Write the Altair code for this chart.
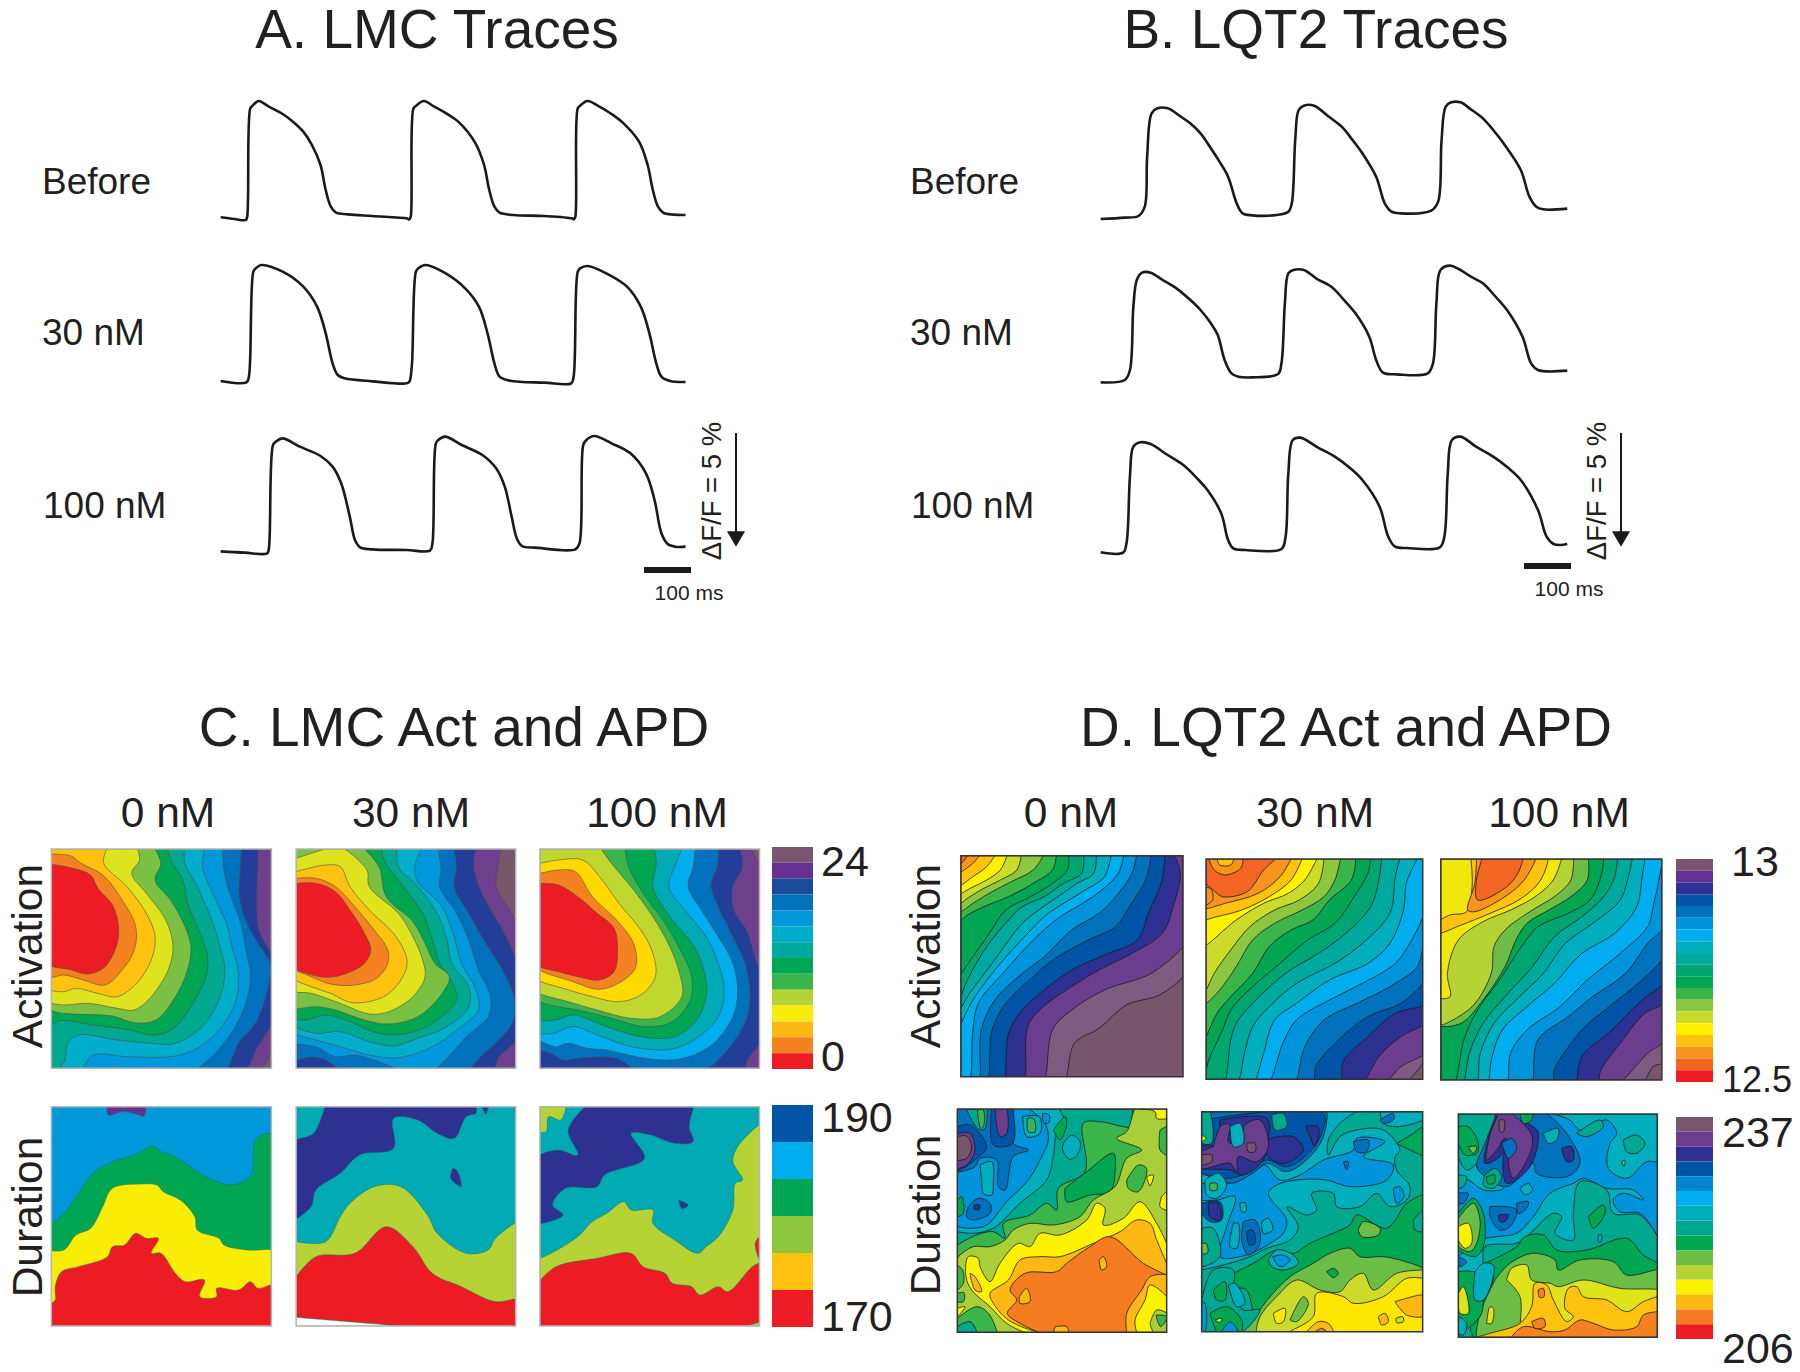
import altair as alt
import pandas as pd

FONT = "Liberation Sans"

# ---------- trace readings (per trace: (x, y)) ----------
A_BEFORE = [(60,382),(100,387),(133,390),(137,380),(146,55),(152,48),(170,33),(200,50),(240,72),(270,95),(300,125),(325,165),(350,225),(365,300),(380,350),(395,368),(430,373),(500,378),(600,385),(608,388),(612,380),(620,55),(628,47),(650,33),(680,50),(715,70),(750,95),(800,160),(825,225),(840,300),(855,350),(870,368),(910,375),(1000,378),(1080,385),(1086,388),(1090,380),(1097,55),(1104,47),(1125,33),(1160,50),(1195,72),(1230,100),(1275,155),(1300,225),(1315,300),(1330,350),(1345,368),(1375,374),(1410,375)]
A_30 = [(60,873),(135,877),(142,860),(155,545),(162,535),(178,525),(240,545),(300,590),(340,650),(365,730),(385,820),(400,855),(420,865),(500,874),(600,880),(608,875),(615,830),(627,545),(634,535),(655,525),(710,548),(770,595),(810,650),(835,730),(855,820),(870,860),(900,872),(1000,878),(1078,880),(1085,860),(1097,545),(1104,535),(1125,528),(1180,550),(1240,590),(1280,650),(1305,730),(1325,820),(1340,860),(1365,873),(1410,876)]
A_100 = [(60,1384),(130,1388),(195,1390),(200,1375),(212,1065),(220,1055),(240,1045),(290,1070),(350,1098),(385,1130),(410,1180),(435,1280),(450,1350),(465,1372),(500,1378),(600,1380),(668,1382),(675,1360),(685,1060),(692,1050),(712,1040),(760,1065),(820,1095),(860,1135),(885,1190),(905,1280),(920,1345),(935,1368),(975,1373),(1090,1378),(1102,1360),(1113,1065),(1122,1050),(1145,1038),(1195,1060),(1250,1090),(1295,1150),(1320,1230),(1340,1330),(1358,1362),(1380,1370),(1410,1370)]
B_BEFORE = [(60,387),(130,383),(170,378),(188,350),(195,200),(208,70),(225,55),(255,55),(290,78),(320,100),(350,130),(380,175),(405,215),(430,260),(455,340),(472,370),(500,376),(570,375),(605,365),(615,340),(625,150),(635,60),(650,47),(680,47),(720,78),(760,110),(790,148),(820,190),(860,260),(885,340),(905,365),(930,370),(1020,362),(1040,335),(1050,150),(1062,50),(1078,37),(1105,37),(1135,58),(1170,85),(1200,120),(1230,160),(1280,240),(1305,320),(1325,350),(1345,358),(1415,356)]
B_30 = [(60,877),(130,870),(145,840),(155,650),(165,570),(180,548),(205,548),(240,570),(280,595),(315,625),(350,660),(380,700),(400,735),(420,810),(440,850),(460,860),(500,862),(575,852),(585,820),(595,640),(605,550),(620,540),(650,540),(690,568),(730,590),(765,628),(800,670),(840,740),(860,810),(880,848),(920,853),(1010,850),(1025,820),(1035,640),(1047,540),(1075,527),(1100,537),(1135,560),(1170,580),(1205,618),(1240,660),(1285,740),(1310,820),(1330,840),(1415,842)]
B_100 = [(60,1387),(125,1388),(135,1360),(145,1160),(155,1070),(175,1057),(205,1062),(250,1092),(300,1125),(340,1165),(370,1200),(410,1270),(430,1350),(445,1375),(480,1380),(585,1377),(597,1340),(605,1150),(618,1050),(640,1043),(690,1072),(740,1100),(785,1135),(820,1170),(870,1250),(895,1340),(915,1370),(950,1374),(1045,1372),(1058,1340),(1068,1150),(1080,1050),(1105,1040),(1150,1070),(1200,1100),(1245,1135),(1280,1170),(1330,1260),(1355,1340),(1375,1362),(1395,1365),(1415,1362)]

# ---------- palettes ----------
C_BASE = '#77566b'
C_ACT_COL1 = ['#6d3f8c','#233e99','#0071bc','#0098db','#00aecb','#00a88f','#00a651','#7ac143','#dfe31d','#ffc20e','#f58220','#ed1c24']
C_ACT_COL3 = ['#6d3f8c','#233e99','#0071bc','#00aeef','#00aab5','#00a651','#39b54a','#c0d72f','#ffd900','#f58220','#ed1c24']
D_ACT_COL = ['#7d5a80','#6a3d8f','#2e3192','#0054a6','#0072bc','#0095da','#00aeef','#00aebd','#00a99d','#00a672','#00a651','#39b54a','#8dc63f','#cbdb2a','#fff200','#ffc20e','#f7941d','#f26522']
D_ACT_COL3 = ['#7d5a80','#6a3d8f','#2e3192','#0054a6','#0072bc','#0095da','#00aeef','#00aebd','#00a99d','#00a672','#00a651','#6cbd45','#b5d334','#f0e80c']

LEG_C_ACT = ['#7a5570','#65308f','#1a4a9c','#0072bc','#0098db','#00aecb','#00a99d','#00a651','#39b54a','#b5d334','#f7ec0b','#fdb913','#f58220','#ed1c24']
LEG_C_DUR = ['#0054a6','#00aeef','#00a651','#8dc63f','#ffc20e','#ed1c24']
LEG_D_ACT = ['#7a5570','#65308f','#2e3192','#0054a6','#0072bc','#0095da','#00aeef','#00aebd','#00a99d','#00a672','#00a651','#39b54a','#8dc63f','#cbdb2a','#fff200','#ffc20e','#f7941d','#f26522','#ed1c24']
LEG_D_DUR = ['#7a5570','#6a3d8f','#2e3192','#0054a6','#0085cf','#00aeef','#00aebd','#00a88f','#00a651','#6cbd45','#b5d334','#fff200','#fdb813','#f47b20','#ed1c24']

# ---------- contour boundaries, panel C activation ----------
CA1 = [
 [(498,57),(498,665),(478,715)],
 [(470,57),(470,100),(468,200),(472,300),(498,370),(498,585),(470,650),(448,715)],
 [(436,57),(434,110),(432,200),(445,270),(470,340),(495,400),(490,480),(465,580),(430,640),(408,715)],
 [(398,57),(400,120),(412,190),(435,280),(445,360),(455,440),(440,540),(410,620),(375,680),(345,715)],
 [(360,57),(356,110),(380,200),(405,280),(418,360),(430,430),(425,510),(395,590),(350,650),(300,678),(200,680),(130,675),(108,715)],
 [(318,57),(320,100),(345,170),(375,270),(392,350),(402,420),(390,510),(355,590),(300,640),(250,640),(180,630),(100,615),(78,640),(72,690),(60,715)],
 [(284,57),(290,90),(315,150),(325,220),(345,290),(365,370),(365,430),(340,510),(300,590),(260,615),(200,598),(130,585),(60,572),(44,585)],
 [(258,57),(270,100),(258,150),(290,210),(320,290),(332,350),(325,420),(300,500),(260,570),(215,578),(170,558),(100,553),(60,548),(44,540)],
 [(222,57),(226,90),(210,130),(240,190),(280,270),(295,350),(285,420),(250,500),(215,540),(180,535),(120,520),(70,525),(44,518)],
 [(158,57),(152,100),(200,170),(240,250),(258,320),(250,390),(220,460),(180,500),(140,490),(95,475),(70,485),(44,480)],
 [(44,72),(85,78),(105,100),(150,135),(190,210),(218,290),(215,360),(190,420),(155,465),(110,450),(70,435),(44,442)],
 [(44,103),(80,112),(125,135),(140,175),(170,225),(182,280),(180,340),(155,410),(120,432),(80,418),(44,408)],
]
CA2 = [
 [(972,57),(965,110),(962,170),(985,230),(1002,270),(1002,715)],
 [(920,57),(915,105),(925,165),(945,225),(975,300),(1002,385),(1002,635),(968,680),(958,715)],
 [(875,57),(880,110),(875,170),(905,250),(940,340),(975,420),(1000,510),(995,580),(960,640),(930,680),(908,715),(636,715),(610,690),(580,680),(549,690)],
 [(842,57),(848,120),(845,170),(880,250),(905,330),(925,420),(950,500),(945,560),(900,620),(870,670),(838,715),(756,715),(710,690),(670,675),(630,680),(590,650),(549,640)],
 [(808,57),(795,100),(798,150),(850,230),(875,320),(890,400),(920,480),(925,540),(880,600),(830,650),(760,683),(700,675),(640,650),(590,630),(549,612)],
 [(757,57),(760,110),(800,170),(840,250),(860,330),(870,400),(905,470),(905,530),(860,590),(800,625),(750,648),(700,635),(640,605),(590,610),(549,590)],
 [(725,57),(730,90),(770,170),(810,250),(830,330),(845,400),(875,470),(880,510),(830,580),(780,610),(720,610),(660,575),(610,555),(570,570),(549,565)],
 [(690,57),(720,110),(735,200),(790,275),(815,340),(835,400),(865,440),(845,500),(800,560),(740,582),(690,570),(630,540),(590,530),(549,535)],
 [(549,85),(610,57),(648,57),(695,120),(700,170),(760,250),(790,320),(810,390),(815,440),(790,500),(740,545),(700,552),(640,520),(580,490),(549,485)],
 [(549,125),(610,105),(640,110),(660,170),(700,240),(755,320),(778,395),(765,450),(730,500),(665,518),(620,490),(580,470),(549,450)],
 [(549,145),(590,145),(630,170),(670,230),(710,300),(738,360),(738,400),(715,445),(670,465),(620,462),(580,440),(549,420)],
 [(549,160),(590,160),(630,185),(660,240),(690,310),(703,360),(690,400),(650,432),(610,442),(570,430),(549,418)],
]
CA3 = [
 [(1490,57),(1495,80),(1505,95),(1505,715)],
 [(1464,57),(1470,110),(1450,170),(1452,240),(1478,300),(1500,400),(1505,410),(1505,640),(1480,690),(1475,715)],
 [(1420,57),(1418,110),(1405,165),(1420,230),(1450,320),(1475,400),(1485,490),(1480,560),(1450,640),(1420,690),(1398,715),(1245,715),(1210,685),(1170,680),(1130,685),(1100,690),(1075,670),(1052,660)],
 [(1372,57),(1368,110),(1358,170),(1385,240),(1420,320),(1450,400),(1460,490),(1450,560),(1410,640),(1360,680),(1310,690),(1250,680),(1190,660),(1150,655),(1110,640),(1085,650),(1052,630)],
 [(1345,57),(1330,110),(1318,170),(1345,230),(1395,320),(1420,400),(1432,480),(1420,560),(1370,630),(1320,658),(1240,650),(1180,620),(1120,590),(1080,610),(1052,610)],
 [(1288,57),(1292,100),(1285,170),(1320,260),(1370,350),(1392,430),(1395,500),(1375,570),(1330,620),(1260,620),(1190,590),(1120,555),(1085,570),(1052,570)],
 [(1228,57),(1235,110),(1265,190),(1310,280),(1345,370),(1365,440),(1362,510),(1325,575),(1270,590),(1200,565),(1130,540),(1090,530),(1052,515)],
 [(1178,57),(1205,110),(1240,170),(1285,260),(1320,350),(1340,430),(1345,500),(1300,560),(1240,565),(1170,540),(1110,515),(1052,490)],
 [(1052,100),(1090,90),(1140,90),(1175,140),(1215,220),(1260,300),(1285,370),(1290,440),(1260,495),(1215,515),(1160,500),(1100,475),(1052,452)],
 [(1052,130),(1090,120),(1125,125),(1160,200),(1210,270),(1245,340),(1250,410),(1225,450),(1175,478),(1120,455),(1052,420)],
 [(1052,160),(1090,165),(1130,200),(1170,250),(1205,295),(1212,370),(1205,425),(1175,450),(1130,440),(1090,425),(1052,410)],
]

# ---------- panel C duration ----------
CD1 = [
 ('#00a651',[(44,400),(70,370),(100,310),(130,250),(170,215),(215,195),(255,168),(270,185),(300,200),(335,235),(365,262),(415,285),(445,270),(458,250),(465,150),(490,130),(498,135),(498,708),(44,708)]),
 ('#f9ed06',[(44,482),(70,480),(95,435),(125,415),(150,350),(170,295),(230,282),(262,285),(275,305),(310,330),(340,380),(345,420),(390,445),(400,465),(450,480),(498,480),(498,708),(44,708)]),
 ('#ed1c24',[(44,640),(52,630),(52,590),(65,545),(100,530),(160,500),(170,470),(195,465),(218,430),(240,445),(265,445),(250,490),(270,490),(300,550),(320,575),(360,570),(350,620),(385,620),(385,595),(430,600),(455,575),(470,595),(498,585),(498,708),(44,708)]),
 ('#65308f',[(158,50),(162,75),(190,65),(215,70),(235,78),(238,50)]),
]
CD2 = [
 ('#2e3192',[(608,50),(585,130),(549,150),(549,385),(580,350),(590,300),(640,250),(680,195),(750,175),(750,85),(800,90),(840,130),(875,145),(900,80),(920,70),(920,50)]),
 ('#2e3192',[(932,50),(945,50),(940,72)]),
 ('#2e3192',[(872,235),(880,240),(890,290),(868,265)]),
 ('#b5d334',[(549,455),(610,455),(640,380),(660,340),(710,290),(765,290),(820,375),(840,430),(900,490),(945,480),(960,445),(1002,400),(1002,708),(549,708)]),
 ('#ed1c24',[(549,560),(590,500),(670,490),(735,410),(790,470),(830,550),(890,590),(960,635),(1002,628),(1002,708),(765,708),(762,707.6),(552,682.4),(549,682)]),
 ('#ffffff',[(549,682),(552,682.4),(762,707.6),(765,708),(549,708)]),
]
CD3 = [
 ('#b5d334',[(1052,50),(1105,50),(1095,90),(1070,80),(1065,125),(1052,125)]),
 ('#2e3192',[(1145,50),(1110,120),(1130,195),(1090,180),(1052,195),(1052,400),(1100,375),(1078,345),(1105,295),(1170,290),(1185,255),(1268,205),(1240,130),(1280,135),(1330,160),(1368,155),(1360,110),(1368,50)]),
 ('#2e3192',[(1338,330),(1358,345),(1345,356)]),
 ('#b5d334',[(1052,505),(1075,490),(1130,440),(1160,395),(1190,370),(1225,335),(1240,360),(1285,360),(1285,400),(1330,450),(1378,490),(1395,470),(1420,440),(1450,360),(1455,280),(1470,270),(1450,215),(1460,170),(1505,105),(1505,708),(1052,708)]),
 ('#ed1c24',[(1052,572),(1085,530),(1170,505),(1240,490),(1265,530),(1310,550),(1325,580),(1365,590),(1382,615),(1420,590),(1440,605),(1490,530),(1505,520),(1505,695),(1470,708),(1052,708)]),
 ('#ed1c24',[(1505,440),(1496,460),(1505,510)]),
]

# ---------- panel D activation ----------
DA1 = [
 [(443,47),(443,410),(400,465),(340,495),(290,565),(245,610),(230,710)],
 [(443,47),(443,320),(385,400),(300,450),(240,510),(205,570),(192,710)],
 [(428,47),(438,100),(425,200),(405,280),(350,340),(290,390),(240,440),(185,505),(160,560),(155,710)],
 [(410,47),(405,120),(380,220),(360,300),(300,345),(240,390),(190,450),(150,510),(125,580),(118,710)],
 [(385,47),(375,120),(345,200),(320,260),(270,300),(210,355),(170,410),(120,490),(95,570),(88,710)],
 [(358,47),(350,100),(320,170),(290,220),(240,270),(190,350),(150,400),(100,480),(75,570),(72,710)],
 [(335,47),(325,100),(295,150),(260,190),(215,235),(170,300),(120,390),(70,490),(60,570),(55,710)],
 [(312,47),(300,110),(265,150),(230,185),(190,230),(160,280),(105,380),(60,480),(38,550)],
 [(285,47),(280,100),(250,130),(215,170),(180,210),(150,250),(95,370),(50,470),(38,505)],
 [(262,47),(258,100),(225,130),(190,170),(150,200),(125,240),(85,320),(50,420),(38,470)],
 [(235,47),(232,90),(205,130),(165,170),(120,210),(90,280),(60,350),(38,400)],
 [(212,47),(205,90),(170,130),(125,170),(80,200),(50,225),(38,240)],
 [(188,47),(170,90),(130,125),(95,155),(60,190),(38,215)],
 [(148,47),(140,90),(110,120),(80,145),(50,175),(38,190)],
 [(122,47),(110,90),(85,120),(55,145),(38,160)],
 [(100,47),(85,80),(60,110),(38,135)],
 [(72,47),(60,70),(38,95)],
 [(50,47),(45,60),(38,70)],
]
DA2 = [
 [(880,57),(880,670),(855,718)],
 [(880,57),(880,645),(840,680),(818,718)],
 [(880,57),(880,555),(840,590),(800,650),(775,718)],
 [(880,57),(880,497),(830,520),(780,590),(735,665),(732,718)],
 [(880,57),(880,430),(840,490),(780,530),(720,610),(685,680),(682,718)],
 [(880,57),(880,320),(870,380),(820,440),(760,490),(700,540),(665,620),(650,718)],
 [(880,57),(880,230),(860,300),(830,370),(770,430),(710,480),(650,540),(625,610),(603,718)],
 [(870,57),(850,130),(845,210),(820,310),(780,370),(710,420),(650,490),(610,540),(590,640),(575,718)],
 [(838,57),(830,110),(820,220),(770,310),(720,370),(650,430),(600,500),(570,560),(555,640),(545,718)],
 [(805,57),(800,120),(785,200),(740,280),(690,340),(630,400),(570,490),(540,550),(530,600),(520,718)],
 [(785,57),(780,100),(755,170),(720,250),(670,300),(620,370),(570,440),(530,510),(515,570),(490,660),(485,690)],
 [(758,57),(750,120),(710,180),(680,240),(640,270),(600,320),(570,400),(530,470),(505,520),(485,590)],
 [(730,57),(720,120),(700,170),(660,210),(610,250),(570,300),(540,380),(510,450),(485,490)],
 [(700,57),(690,130),(655,180),(610,210),(565,260),(530,330),(500,400),(485,450)],
 [(687,57),(665,120),(635,160),(590,190),(540,240),(485,315)],
 [(660,57),(640,120),(600,170),(550,210),(500,232),(485,238)],
 [(640,57),(620,110),(580,160),(520,190),(485,205)],
 [(612,57),(590,90),(560,155),(515,170),(498,150),(485,130)],
]
DA2_EXTRA = [
 ('#f7941d',[(490,57),(552,57),(548,85),(520,105),(500,90)]),
 ('#ffc20e',[(505,57),(535,57),(530,75),(510,75)]),
 ('#f7941d',[(485,140),(495,150),(497,180),(485,195)]),
]
DA3 = [
 [(1316,57),(1316,670),(1300,680),(1285,720)],
 [(1316,57),(1316,610),(1290,640),(1245,720)],
 [(1316,57),(1316,495),(1285,520),(1240,610),(1205,690),(1200,720)],
 [(1316,57),(1316,435),(1280,480),(1225,570),(1170,650),(1160,720)],
 [(1316,57),(1316,360),(1280,420),(1220,500),(1170,570),(1120,690),(1118,720)],
 [(1316,57),(1316,270),(1290,310),(1250,400),(1190,470),(1145,530),(1090,600),(1080,720)],
 [(1316,57),(1316,70),(1300,200),(1290,260),(1240,340),(1180,420),(1130,500),(1070,570),(1040,640),(1035,720)],
 [(1285,57),(1280,110),(1270,200),(1230,280),(1170,340),(1120,430),(1070,500),(1025,570),(1005,660),(1000,720)],
 [(1262,57),(1255,110),(1240,180),(1190,250),(1140,310),(1100,400),(1050,480),(1010,550),(985,640),(980,720)],
 [(1235,57),(1230,110),(1210,170),(1170,230),(1120,290),(1080,380),(1030,470),(990,550),(965,640),(955,720)],
 [(1210,57),(1205,110),(1185,180),(1145,220),(1090,260),(1060,320),(1020,420),(980,510),(955,600),(940,720)],
 [(1182,57),(1180,120),(1150,170),(1110,210),(1070,250),(1050,300),(1030,380),(990,480),(950,550),(913,558)],
 [(1155,57),(1150,120),(1120,170),(1080,210),(1030,270),(1010,320),(1005,400),(970,500),(913,555)],
 [(1133,57),(1118,120),(1085,170),(1040,210),(990,245),(945,300),(925,400),(930,470),(913,475)],
]
DA3_EXTRA = [
 ('#ffc20e',[(968,57),(1108,57),(1095,120),(1060,175),(1000,222),(950,255),(913,278),(913,240),(930,225),(960,215),(970,140)]),
 ('#f7941d',[(978,57),(1085,57),(1065,120),(1030,170),(975,215),(962,210),(975,130)]),
 ('#f26522',[(988,57),(1062,57),(1050,110),(1025,150),(980,180),(978,120)]),
]

# ---------- panel D duration (crop pixels, 3x) ----------
DD1 = [
 ('#00aebd',[(22,380),(60,385),(110,375),(170,305),(235,240),(275,170),(295,120),(285,70),(240,27),(650,27),(650,697),(22,697)]),
 ('#00a88f',[(22,395),(70,400),(130,385),(210,310),(290,240),(310,170),(320,100),(345,70),(330,27),(650,27),(650,697),(22,697)]),
 ('#00aebd',[(340,130),(365,105),(390,125),(385,160),(360,178),(338,150)]),
 ('#00a651',[(310,90),(345,50),(350,70),(330,120)]),
 ('#00aebd',[(218,50),(268,50),(270,100),(230,110)]),
 ('#39b54a',[(232,55),(250,55),(255,95),(235,95)]),
 ('#39b54a',[(22,435),(80,405),(130,395),(165,415),(160,370),(240,345),(290,310),(320,330),(325,265),(405,215),(400,70),(450,65),(520,80),(540,80),(550,27),(650,27),(650,697),(22,697)]),
 ('#00a651',[(345,265),(410,215),(490,160),(495,215),(480,275),(420,285),(350,305)]),
 ('#a8cf38',[(22,475),(30,465),(70,440),(120,440),(165,420),(190,390),(240,370),(310,375),(390,350),(430,300),(495,260),(530,175),(575,150),(500,115),(530,95),(555,27),(650,27),(650,697),(22,697)]),
 ('#39b54a',[(530,240),(565,195),(590,205),(565,275),(535,265)]),
 ('#39b54a',[(630,90),(650,80),(650,165),(630,150)]),
 ('#fff200',[(650,430),(620,370),(570,305),(520,355),(460,375),(465,325),(440,310),(410,360),(330,405),(270,400),(240,440),(205,430),(150,490),(120,545),(90,500),(85,475),(55,470),(48,530),(65,570),(120,620),(170,670),(225,697),(650,697)]),
 ('#fdb813',[(650,490),(620,420),(600,370),(560,360),(510,395),(430,430),(330,470),(270,470),(210,480),(175,540),(120,580),(130,610),(175,660),(265,697),(650,697)]),
 ('#f47b20',[(650,525),(580,490),(480,410),(420,440),(350,490),(320,515),(225,520),(180,570),(200,600),(172,640),(210,670),(270,697),(650,697)]),
 ('#fdb813',[(208,590),(230,565),(240,605),(210,610)]),
 ('#fdb813',[(315,680),(350,680),(355,697),(312,697)]),
 ('#fdb813',[(447,480),(460,470),(470,500),(455,510)]),
 ('#fdb813',[(530,697),(530,640),(575,570),(600,530),(650,525),(650,697)]),
 ('#fff200',[(560,697),(555,660),(585,600),(600,555),(650,590),(650,697)]),
 ('#a8cf38',[(600,670),(620,630),(650,640),(650,697),(610,697)]),
 ('#39b54a',[(618,645),(650,650),(632,680)]),
 ('#39b54a',[(22,655),(80,620),(115,640),(140,697),(22,697)]),
 ('#00a88f',[(22,680),(60,665),(80,697),(22,697)]),
 ('#fff200',[(22,625),(45,620),(22,650)]),
 ('#39b54a',[(22,495),(38,510),(40,550),(22,570)]),
 ('#39b54a',[(22,580),(42,578),(40,605),(22,605)]),
 ('#fdb813',[(60,520),(75,530),(95,575),(75,570)]),
 ('#0072bc',[(22,27),(190,27),(190,130),(235,150),(190,170),(165,270),(145,260),(140,180),(90,175),(75,200),(22,215)]),
 ('#00aebd',[(90,195),(125,185),(130,250),(125,285),(100,280),(95,240)]),
 ('#0054a6',[(125,27),(185,27),(188,130),(130,135)]),
 ('#0054a6',[(22,80),(60,75),(110,140),(80,175),(30,210),(22,210)]),
 ('#6a3d8f',[(135,27),(170,27),(170,100),(150,110)]),
 ('#6a3d8f',[(22,100),(60,100),(75,150),(50,195),(22,205)]),
 ('#77566b',[(22,110),(50,108),(65,140),(50,175),(22,180)]),
 ('#00a88f',[(50,27),(110,27),(105,85),(90,90),(65,60)]),
 ('#39b54a',[(82,30),(100,30),(100,80),(92,85)]),
 ('#0072bc',[(55,320),(85,295),(120,310),(120,340),(70,360),(50,350)]),
 ('#2e3192',[(72,316),(88,314),(88,328),(74,328)]),
 ('#00a651',[(22,300),(35,290),(40,340),(22,350)]),
 ('#0095da',[(278,40),(298,45),(295,70),(280,65)]),
 ('#fff200',[(570,27),(650,27),(650,55),(620,55),(615,35)]),
 ('#fff200',[(590,230),(610,225),(600,258)]),
 ('#fff200',[(635,290),(650,275),(650,330),(630,320)]),
]
DD2 = [
 ('#0095da',[(65,250),(140,250),(230,210),(255,195),(300,240),(360,225),(430,180),(520,150),(530,115),(615,125),(550,170),(640,195),(620,240),(510,260),(440,240),(350,240),(290,255),(265,280),(320,360),(310,400),(270,430),(200,465),(120,470),(140,380),(165,290),(110,300),(65,300)]),
 ('#00a88f',[(65,510),(130,495),(210,470),(260,445),(330,420),(355,380),(320,320),(380,345),(410,330),(395,280),(460,280),(470,320),(540,320),(590,280),(630,320),(680,300),(690,260),(650,210),(645,170),(660,150),(610,90),(530,90),(480,110),(445,165),(445,120),(480,70),(530,35),(728,35),(728,695),(65,695)]),
 ('#00aebd',[(600,35),(728,35),(728,60),(650,80),(610,70)]),
 ('#0072bc',[(600,60),(640,40),(640,60),(610,70)]),
 ('#00a651',[(650,130),(700,100),(728,80),(728,165),(690,150)]),
 ('#0095da',[(640,265),(660,260),(672,290),(650,310)]),
 ('#0072bc',[(520,125),(565,120),(560,155),(530,155)]),
 ('#0072bc',[(490,185),(505,185),(500,210)]),
 ('#00a651',[(160,520),(220,490),(290,450),(340,460),(390,430),(470,395),(510,375),(530,345),(620,385),(680,310),(728,285),(728,695),(230,695),(200,570),(165,560)]),
 ('#00a88f',[(700,360),(728,330),(728,395),(705,390)]),
 ('#6cbd45',[(535,390),(550,365),(600,385),(595,405),(545,410)]),
 ('#00aebd',[(265,480),(290,450),(340,465),(355,490),(310,510),(275,500)]),
 ('#0095da',[(278,470),(310,465),(330,480),(300,500)]),
 ('#6cbd45',[(240,630),(270,590),(330,530),(400,490),(450,460),(510,445),(540,470),(610,470),(660,480),(728,505),(728,695),(190,695)]),
 ('#00a651',[(440,515),(460,505),(475,520),(460,533)]),
 ('#cbdb2a',[(728,510),(650,520),(580,570),(550,520),(510,540),(480,575),(420,570),(350,540),(290,590),(240,650),(230,695),(728,695)]),
 ('#ffe600',[(728,535),(680,535),(610,590),(520,610),(490,590),(410,580),(400,650),(330,695),(728,695)]),
 ('#6cbd45',[(330,660),(370,590),(385,610),(350,665)]),
 ('#ffe600',[(280,640),(315,625),(310,665),(290,670)]),
 ('#fdb813',[(645,605),(728,585),(728,650),(680,645)]),
 ('#fdb813',[(595,650),(615,640),(625,665),(605,675)]),
 ('#cbdb2a',[(648,655),(668,650),(670,665),(650,668)]),
 ('#fdb813',[(380,695),(415,665),(445,670),(460,695)]),
 ('#f47b20',[(405,695),(425,685),(440,695)]),
 ('#0072bc',[(65,35),(440,35),(430,110),(390,170),(320,215),(260,190),(210,225),(150,250),(65,215)]),
 ('#0054a6',[(65,60),(430,40),(425,100),(385,160),(320,200),(260,180),(205,215),(150,235),(65,220)]),
 ('#2e3192',[(270,115),(340,110),(370,150),(315,190),(270,175),(255,150)]),
 ('#2e3192',[(120,60),(260,55),(265,120),(250,180),(190,225),(150,210),(65,205),(65,140),(110,130)]),
 ('#2e3192',[(378,78),(415,82),(405,140),(390,110)]),
 ('#6a3d8f',[(100,140),(125,75),(150,75),(145,125),(180,130),(195,75),(240,60),(265,140),(230,185),(175,170),(170,215),(150,190),(80,205),(65,205),(65,155)]),
 ('#77566b',[(65,165),(95,165),(95,185),(65,195)]),
 ('#77566b',[(200,130),(225,130),(225,155),(205,155)]),
 ('#00aebd',[(150,80),(180,70),(190,130),(160,140)]),
 ('#00a88f',[(275,45),(310,40),(320,80),(285,90)]),
 ('#00a88f',[(65,35),(90,35),(95,130),(65,130)]),
 ('#fff200',[(65,105),(78,115),(65,125)]),
 ('#00aebd',[(75,240),(115,220),(140,255),(110,295),(80,285)]),
 ('#39b54a',[(90,250),(110,250),(110,270),(90,270)]),
 ('#0054a6',[(65,310),(120,305),(125,360),(90,365),(65,340)]),
 ('#2e3192',[(85,310),(115,310),(120,360),(90,350)]),
 ('#0072bc',[(190,365),(225,360),(240,430),(205,465),(185,420)]),
 ('#0054a6',[(200,395),(218,390),(225,430),(208,435)]),
 ('#00aebd',[(245,365),(265,355),(278,390),(250,400)]),
 ('#00aebd',[(180,310),(195,308),(198,335),(185,335)]),
 ('#00aebd',[(160,370),(175,370),(170,445),(150,440)]),
 ('#00a88f',[(65,385),(100,385),(120,470),(65,500)]),
 ('#6cbd45',[(65,430),(80,432),(82,460),(65,460)]),
 ('#00a88f',[(65,600),(100,510),(160,510),(160,590),(190,630),(240,630),(190,695),(65,695)]),
 ('#00aebd',[(145,555),(165,550),(195,610),(170,620)]),
 ('#00a651',[(100,570),(135,545),(135,600),(110,600)]),
 ('#00a651',[(90,640),(140,620),(185,660),(185,695),(110,695)]),
 ('#cbdb2a',[(105,660),(125,655),(120,668)]),
 ('#0095da',[(125,695),(150,665),(175,695)]),
 ('#0095da',[(65,605),(75,610),(75,695),(65,695)]),
]
DD3 = [
 ('#00aebd',[(340,42),(652,42),(652,185),(620,185),(560,235),(505,205),(510,130),(530,100),(500,60),(420,90),(390,60)]),
 ('#00a88f',[(550,120),(590,105),(615,130),(590,160),(560,155)]),
 ('#6cbd45',[(545,185),(555,180),(552,200)]),
 ('#00a88f',[(410,100),(480,60),(490,80),(440,110)]),
 ('#00aebd',[(55,42),(165,42),(125,170),(110,200),(190,265),(130,270),(85,240),(55,240)]),
 ('#00a88f',[(55,42),(165,42),(125,170),(80,210),(55,170)]),
 ('#00a651',[(55,80),(85,80),(115,130),(110,160),(75,165),(55,130)]),
 ('#6cbd45',[(85,140),(110,140),(100,160)]),
 ('#00aebd',[(55,470),(120,420),(170,410),(230,400),(280,350),(330,280),(400,250),(430,235),(500,265),(580,270),(610,300),(550,280),(520,300),(540,335),(600,340),(652,410),(652,470),(55,560)]),
 ('#00a88f',[(130,490),(135,440),(230,430),(260,410),(340,340),(365,350),(345,400),(400,420),(400,340),(420,245),(500,270),(520,340),(600,345),(652,410),(652,712),(55,712),(100,640),(160,530)]),
 ('#00a651',[(445,350),(490,315),(495,340),(460,385)]),
 ('#00aebd',[(475,405),(485,405),(483,425),(475,425)]),
 ('#00a651',[(135,490),(230,440),(255,410),(310,405),(350,450),(440,450),(560,415),(610,465),(652,490),(652,712),(100,712),(90,640),(130,600),(160,530)]),
 ('#6cbd45',[(165,540),(210,490),(280,460),(345,480),(355,510),(420,480),(520,485),(560,525),(652,510),(652,712),(110,712),(120,640)]),
 ('#dfe31a',[(200,540),(215,505),(260,495),(275,540),(330,550),(355,560),(430,540),(540,565),(652,570),(652,712),(240,712),(240,590)]),
 ('#ffc20e',[(652,590),(610,605),(560,635),(500,600),(430,590),(410,560),(385,565),(375,625),(400,650),(380,665),(340,600),(320,555),(285,550),(275,620),(240,670),(150,700),(110,712),(652,712)]),
 ('#f58220',[(652,635),(610,645),(590,680),(520,690),(460,670),(420,660),(375,690),(330,695),(250,680),(215,712),(652,712)]),
 ('#f58220',[(275,665),(310,655),(315,680),(285,685)]),
 ('#f58220',[(295,570),(310,565),(312,590),(298,592)]),
 ('#dfe31a',[(140,670),(150,620),(160,625),(155,670)]),
 ('#0072bc',[(170,42),(320,42),(380,100),(420,190),(380,230),(290,220),(280,190),(200,260),(130,225),(110,200),(135,130)]),
 ('#00aebd',[(310,100),(355,85),(350,120),(325,130)]),
 ('#2e3192',[(175,42),(280,80),(295,100),(270,200),(200,250),(190,170),(205,135),(180,170),(135,190),(150,100)]),
 ('#6a3d8f',[(175,42),(215,42),(275,105),(270,160),(220,235),(205,180),(215,140),(195,115),(170,150),(140,180),(150,105)]),
 ('#0072bc',[(185,130),(215,115),(230,145),(205,175)]),
 ('#77566b',[(178,60),(192,60),(190,95),(180,95)]),
 ('#2e3192',[(365,145),(395,140),(400,180),(380,185)]),
 ('#0072bc',[(150,320),(200,320),(230,330),(210,380),(180,390),(150,350)]),
 ('#0072bc',[(230,310),(265,305),(260,325),(235,340)]),
 ('#2e3192',[(175,345),(205,345),(195,365),(180,365)]),
 ('#00aebd',[(240,265),(265,250),(278,270),(255,285)]),
 ('#00a88f',[(135,225),(165,205),(185,230),(160,265),(130,255)]),
 ('#00a651',[(140,230),(165,225),(162,250),(142,250)]),
 ('#00a651',[(240,42),(280,42),(270,65),(250,70)]),
 ('#00a88f',[(55,225),(80,230),(70,260),(55,265)]),
 ('#0072bc',[(55,280),(85,280),(70,310),(55,310)]),
 ('#00a651',[(55,340),(100,295),(130,340),(130,440),(105,470),(55,450)]),
 ('#6cbd45',[(55,355),(100,310),(120,360),(110,430),(90,455),(55,440)]),
 ('#fff200',[(55,380),(85,370),(95,430),(75,445),(55,420)]),
 ('#0072bc',[(55,470),(80,485),(60,500)]),
 ('#00a651',[(55,515),(110,520),(125,640),(60,700),(55,700)]),
 ('#dfe31a',[(55,580),(70,560),(85,640),(60,640)]),
 ('#00aebd',[(55,650),(80,670),(70,705),(55,700)]),
 ('#00aebd',[(105,515),(130,490),(160,495),(160,530),(130,600),(105,600)]),
]

# ---------- text and layout ----------
TITLES = [("A. LMC Traces",437,31),("B. LQT2 Traces",1316,31),("C. LMC Act and APD",454,729),("D. LQT2 Act and APD",1346,729)]
ROW_LABELS = [("Before",42,183),("30 nM",42,334),("100 nM",43,507),("Before",910,183),("30 nM",910,334),("100 nM",911,507)]
COL_LABELS = [("0 nM",168,814),("30 nM",411,814),("100 nM",657,814),("0 nM",1071,814),("30 nM",1315,814),("100 nM",1559,814)]
SIDE_LABELS = [("Activation",29,956),("Duration",29,1217),("Activation",927,956),("Duration",927,1215)]
LEG_LABELS = [("24",821,863),("0",821,1058),("190",821,1119),("170",821,1318),("13",1731,863),("237",1722,1134),("206",1722,1350)]
LEG_LABEL_SMALL = [("12.5",1722,1081)]

def zmap(ox, oy, sx, sy=3.0):
    return lambda p: (ox + p[0] / sx, oy + p[1] / sy)

Z1 = zmap(30, 830, 2.063); Z2 = zmap(30, 1090, 2.063); Z3 = zmap(940, 840, 1.823)
ZD1 = zmap(950, 1100, 3.0); ZD2 = zmap(1180, 1100, 3.0); ZD3 = zmap(1440, 1100, 3.0)
ZA = zmap(200, 90, 2.904); ZB = zmap(1080, 90, 2.904)

polys, bases, frames = [], [], []

def add_poly(pts, fill, stroke, sw, bounds):
    l, t, r, b = bounds
    c = [(min(max(x, l), r), min(max(y, t), b)) for x, y in pts]
    c.append(c[0])
    out = []
    for a, e in zip(c[:-1], c[1:]):
        out.append(a)
        same_edge = (a[0] == e[0] and a[0] in (l, r)) or (a[1] == e[1] and a[1] in (t, b))
        d = abs(a[0] - e[0]) + abs(a[1] - e[1])
        if same_edge and d > 6:
            ux, uy = (e[0] - a[0]) / d, (e[1] - a[1]) / d
            out += [(a[0] + 1.5 * ux, a[1] + 1.5 * uy), (e[0] - 1.5 * ux, e[1] - 1.5 * uy)]
    out.append(c[-1])
    polys.append(dict(fill=fill, stroke=stroke, sw=sw, pts=out))

def panel(z, bz, base, nested, cols, extra, stroke, sw, fcol, fw):
    l, t = z((bz[0], bz[1])); r, b = z((bz[2], bz[3]))
    bases.append(dict(x=l, x2=r, y=t, y2=b, c=base))
    for curve, col in zip(nested, cols):
        s = curve[0]; e = curve[-1]
        pts = list(curve)
        if s[1] <= bz[1] + 1 and s[0] > bz[0] + 1:
            if e[1] >= bz[3] - 1:
                pts += [(bz[0], bz[3]), (bz[0], bz[1])]
            else:
                pts += [(bz[0], bz[1])]
        add_poly([z(p) for p in pts], col, stroke, sw, (l, t, r, b))
    for col, pts in extra:
        add_poly([z(p) for p in pts], col, stroke, sw, (l, t, r, b))
    frames.append(dict(x=l, x2=r, y=t, y2=b, c=fcol, w=fw))

CS, CW = '#4d4d4d', 0.6
DS, DW = '#1a1a1a', 0.8
panel(Z1, (44,57,498,715), C_BASE, CA1, C_ACT_COL1, [], CS, CW, '#b5b5b5', 1.5)
panel(Z1, (549,57,1002,715), C_BASE, CA2, C_ACT_COL1, [], CS, CW, '#b5b5b5', 1.5)
panel(Z1, (1052,57,1505,715), C_BASE, CA3, C_ACT_COL3, [], CS, CW, '#b5b5b5', 1.5)
panel(Z2, (44,50,498,708), '#0098db', [], [], CD1, '#1f6f5a', 0.5, '#b5b5b5', 1.5)
panel(Z2, (549,50,1002,708), '#00aab5', [], [], CD2, '#1f6f5a', 0.5, '#b5b5b5', 1.5)
panel(Z2, (1052,50,1505,708), '#00aab5', [], [], CD3, '#1f6f5a', 0.5, '#b5b5b5', 1.5)
panel(Z3, (38,47,443,710), '#77566b', DA1, D_ACT_COL, [], DS, DW, '#333333', 1.5)
panel(Z3, (485,57,880,718), '#77566b', DA2, D_ACT_COL, DA2_EXTRA, DS, DW, '#333333', 1.5)
panel(Z3, (913,57,1316,720), '#77566b', DA3, D_ACT_COL3, DA3_EXTRA, DS, DW, '#333333', 1.5)
panel(ZD1, (22,27,650,697), '#0095da', [], [], DD1, DS, DW, '#333333', 1.5)
panel(ZD2, (65,35,728,695), '#00aebd', [], [], DD2, DS, DW, '#333333', 1.5)
panel(ZD3, (55,42,652,712), '#0095da', [], [], DD3, DS, DW, '#333333', 1.5)

poly_rows = []
for i, p in enumerate(polys):
    for j, (x, y) in enumerate(p['pts']):
        poly_rows.append(dict(pid=i, idx=j, x=x, y=y, fill=p['fill'], stroke=p['stroke'], sw=p['sw']))

trace_rows = []
for tid, (z, tr) in enumerate([(ZA, A_BEFORE), (ZA, A_30), (ZA, A_100), (ZB, B_BEFORE), (ZB, B_30), (ZB, B_100)]):
    for j, p in enumerate(tr):
        x, y = z(p)
        trace_rows.append(dict(tid=tid, idx=j, x=x, y=y))

leg_rows = []
def legend(cols, x, x2, y0, y1):
    h = (y1 - y0) / len(cols)
    for i, c in enumerate(cols):
        leg_rows.append(dict(x=x, x2=x2, y=y0 + i * h, y2=y0 + (i + 1) * h, c=c))
legend(LEG_C_ACT, 772, 813, 847, 1069)
legend(LEG_C_DUR, 772, 813, 1105, 1327)
legend(LEG_D_ACT, 1676, 1713, 859, 1082)
legend(LEG_D_DUR, 1676, 1713, 1117, 1339)

W, H = 1784, 1356
X = lambda f='x': alt.X(f'{f}:Q', scale=alt.Scale(domain=[8, 1792]), axis=None)
Y = lambda f='y': alt.Y(f'{f}:Q', scale=alt.Scale(domain=[1364, 8]), axis=None)

def rects(rows):
    return alt.Chart(pd.DataFrame(rows)).mark_rect().encode(
        x=X(), x2='x2:Q', y=Y(), y2='y2:Q', fill=alt.Fill('c:N', scale=None))

base_l = rects(bases)
poly_l = alt.Chart(pd.DataFrame(poly_rows)).mark_line(interpolate='catmull-rom').encode(
    x=X(), y=Y(), detail='pid:N', order='idx:Q',
    fill=alt.Fill('fill:N', scale=None), stroke=alt.Stroke('stroke:N', scale=None),
    strokeWidth=alt.StrokeWidth('sw:Q', scale=None))

masks = []
for f in frames:
    m = 5
    masks += [dict(x=f['x']-m, x2=f['x2']+m, y=f['y']-m, y2=f['y'], c='#ffffff'),
              dict(x=f['x']-m, x2=f['x2']+m, y=f['y2'], y2=f['y2']+m, c='#ffffff'),
              dict(x=f['x']-m, x2=f['x'], y=f['y'], y2=f['y2'], c='#ffffff'),
              dict(x=f['x2'], x2=f['x2']+m, y=f['y'], y2=f['y2'], c='#ffffff')]
mask_l = rects(masks)
frame_l = alt.Chart(pd.DataFrame(frames)).mark_rect(fillOpacity=0).encode(
    x=X(), x2='x2:Q', y=Y(), y2='y2:Q', stroke=alt.Stroke('c:N', scale=None),
    strokeWidth=alt.StrokeWidth('w:Q', scale=None))
leg_l = rects(leg_rows)

trace_l = alt.Chart(pd.DataFrame(trace_rows)).mark_line(
    interpolate='catmull-rom', color='#1a1a1a', strokeWidth=2.6).encode(
    x=X(), y=Y(), detail='tid:N', order='idx:Q')

bars = rects([dict(x=644, x2=691, y=567, y2=573, c='#1a1a1a'), dict(x=1524, x2=1571, y=563, y2=569, c='#1a1a1a')])
arrow_shaft = alt.Chart(pd.DataFrame([dict(x=736, y=433, y2=532), dict(x=1621, y=433, y2=532)])).mark_rule(
    color='#1a1a1a', strokeWidth=2).encode(x=X(), y=Y(), y2='y2:Q')
arrow_head = alt.Chart(pd.DataFrame([dict(x=736, y=539), dict(x=1621, y=539)])).mark_point(
    shape='triangle-down', filled=True, color='#1a1a1a', size=330, opacity=1).encode(x=X(), y=Y())

def texts(items, size, align='left', angle=0):
    df = pd.DataFrame(items, columns=['t', 'x', 'y'])
    kw = dict(angle=angle) if angle else {}
    return alt.Chart(df).mark_text(font=FONT, fontSize=size, align=align, baseline='middle',
                                   color='#231f20', **kw).encode(x=X(), y=Y(), text='t:N')

layers = [
    base_l, poly_l, mask_l, frame_l, leg_l, trace_l, bars, arrow_shaft, arrow_head,
    texts(TITLES, 55, 'center'),
    texts(ROW_LABELS, 37),
    texts(COL_LABELS, 42.5, 'center'),
    texts(SIDE_LABELS, 42.5, 'center', 270),
    texts(LEG_LABELS, 43),
    texts(LEG_LABEL_SMALL, 36),
    texts([("100 ms", 689, 594), ("100 ms", 1569, 590)], 21, 'center'),
    texts([("\u0394F/F = 5 %", 713, 491), ("\u0394F/F = 5 %", 1598, 491)], 27.5, 'center', 270),
]

chart = alt.layer(*layers).resolve_scale(fill='independent', stroke='independent', strokeWidth='independent').properties(
    width=W, height=H, padding=0, autosize=alt.AutoSizeParams(type='none')
).configure_view(stroke=None)

chart.save("out.html", embed_options={"renderer": "svg", "actions": False})
